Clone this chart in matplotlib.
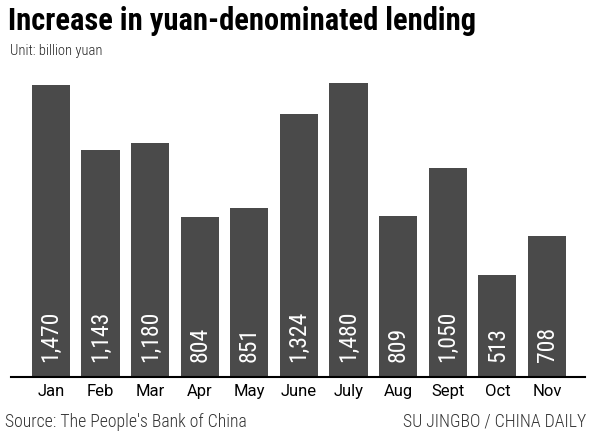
import matplotlib
matplotlib.use("Agg")
import matplotlib.pyplot as plt

# monthly increase in yuan-denominated lending, billion yuan
months = ['Jan', 'Feb', 'Mar', 'Apr', 'May', 'June', 'July', 'Aug', 'Sept', 'Oct', 'Nov']
lending = [1470, 1143, 1180, 804, 851, 1324, 1480, 809, 1050, 513, 708]
value_labels = ['1,470', '1,143', '1,180', '804', '851', '1,324', '1,480', '809', '1,050', '513', '708']

cond = ['Roboto Condensed', 'DejaVu Sans']

fig = plt.figure(figsize=(6.0, 4.37), dpi=100)
ax = fig.add_axes([0.0183, 0.1373, 0.9567, 0.6796])

x = range(len(months))
ax.bar(x, lending, width=0.77, color='#4a4a4a')

# white value labels standing up inside the bars
for i, lab in zip(x, value_labels):
    ax.annotate(lab, (i, 0), xytext=(0, 11), textcoords='offset points',
                rotation=90, ha='center', va='bottom', color='white',
                fontsize=17, family=cond)

ax.set_xlim(-0.806, 10.766)
ax.set_ylim(0, 1495)
ax.set_xticks(list(x))
ax.set_xticklabels(months, fontsize=12, family=['Roboto', 'DejaVu Sans'])
ax.tick_params(axis='x', length=0, pad=5)
ax.set_yticks([])
for s in ['top', 'right', 'left']:
    ax.spines[s].set_visible(False)
ax.spines['bottom'].set_linewidth(1.5)
ax.spines['bottom'].set_color('black')

fig.text(0.013, 0.931, 'Increase in yuan-denominated lending', fontsize=22,
         fontweight='heavy', family=cond, va='baseline', ha='left')
fig.text(0.017, 0.874, 'Unit: billion yuan', fontsize=10.5, fontweight='light',
         family=cond, va='baseline', ha='left', color='#222222')
fig.text(0.009, 0.023, "Source: The People's Bank of China", fontsize=12.8,
         fontweight='light', family=cond, va='baseline', ha='left', color='#333333')
fig.text(0.977, 0.023, 'SU JINGBO / CHINA DAILY', fontsize=12.8,
         fontweight='light', family=cond, va='baseline', ha='right', color='#333333')

fig.savefig('out.png', dpi=100)
